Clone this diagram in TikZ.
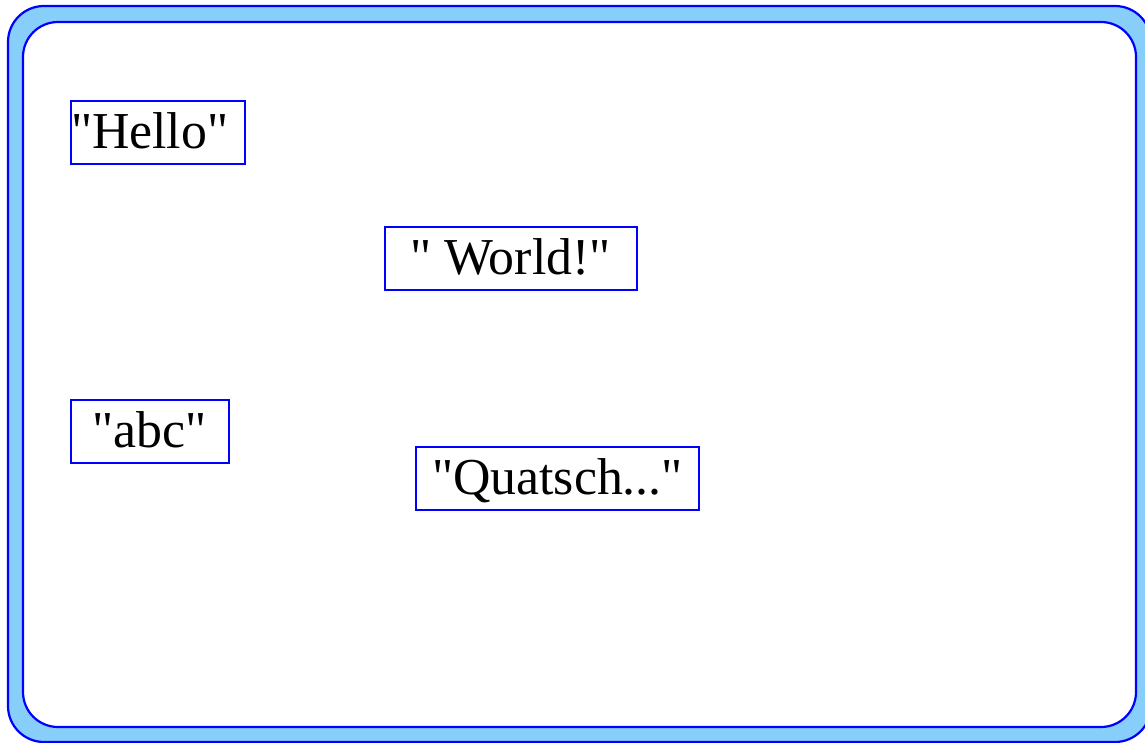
\documentclass[tikz,border=0pt]{standalone}
\usepackage{fontspec}
\newfontfamily\strfont{Liberation Serif}
\definecolor{skyfill}{RGB}{135,206,250}
\definecolor{pureblue}{RGB}{0,0,255}
\newcommand{\padbox}[3]{\makebox[#1bp][l]{\hspace*{#2bp}#3}}
\tikzset{
  frameout/.style={draw=pureblue, fill=skyfill, line width=2.2bp, rounded corners=36bp},
  framein/.style={draw=pureblue, fill=white, line width=2.2bp, rounded corners=35bp},
  strbox/.style={draw=pureblue, line width=2bp, anchor=north west, inner sep=0pt,
    text height=47bp, text depth=16bp,
    font=\strfont\fontsize{52}{60}\selectfont}
}
\begin{document}
\begin{tikzpicture}[x=1bp, y=-1bp]
\useasboundingbox (0,0) rectangle (1145,743);
\clip (0,0) rectangle (1145,743);
\draw[frameout] (8,6) rectangle (1151,742);
\draw[framein] (23,22) rectangle (1136,727);
\node[strbox] (hello) at (70,100) {\padbox{174}{0}{"Hello"}};
\node[strbox] (world) at (384,226) {\padbox{252}{25}{" World!"}};
\node[strbox] (abc) at (70,399) {\padbox{158}{21}{"abc"}};
\node[strbox] (quatsch) at (415,446) {\padbox{283}{16}{"Quatsch..."}};
\end{tikzpicture}
\end{document}
